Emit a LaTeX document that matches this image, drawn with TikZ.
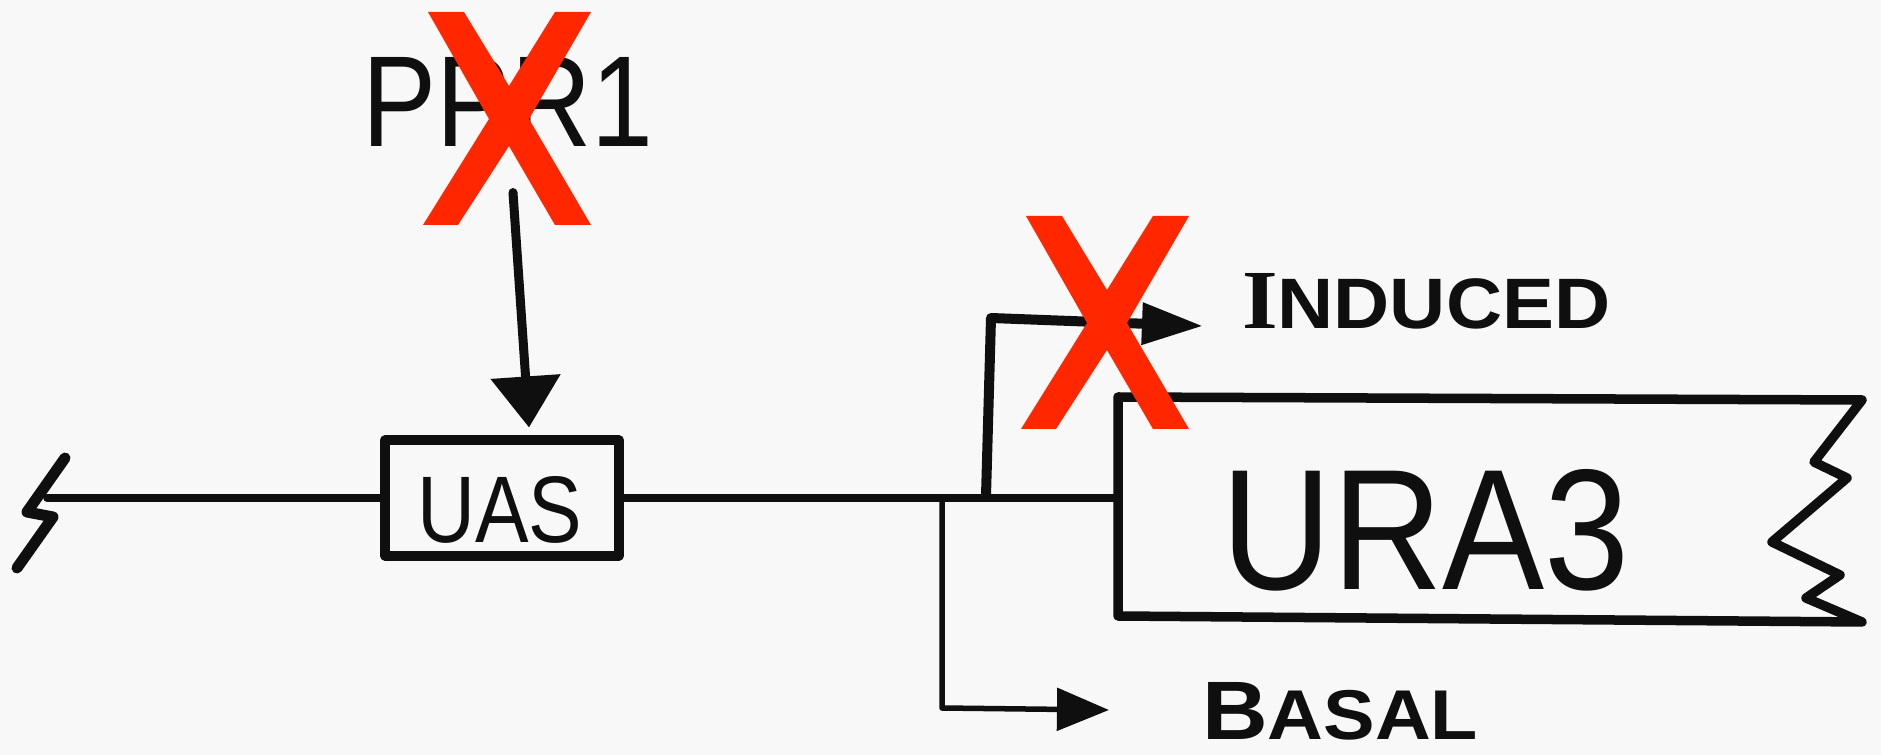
\documentclass[tikz,border=0pt]{standalone}
\usepackage{fontspec}
\setmainfont{Liberation Sans}
\newfontfamily\serifface{Liberation Serif}
\usetikzlibrary{arrows.meta}
\definecolor{xred}{RGB}{255,38,0}
\definecolor{paper}{RGB}{248,248,248}
\definecolor{ink}{RGB}{15,15,15}
\newcommand\drawcross{\fill[xred] (5,0) -- (41,0) -- (86,74) -- (132,0) -- (168,0) -- (106,107) -- (168,213) -- (132,213) -- (86,134) -- (35,213) -- (0,213) -- (66,107) -- cycle;}
\begin{document}
\begin{tikzpicture}[x=0.01cm,y=-0.01cm,line cap=round,line join=round,
  pen/.style={draw=ink,line width=0.075cm},
  genebox/.style={draw=ink,line width=0.1cm,inner sep=0pt},
  lbl/.style={inner sep=0pt,outer sep=0pt,text=ink}]
\fill[paper] (0,0) rectangle (1881,755);
\useasboundingbox (0,0) rectangle (1881,755);

% labels and boxes
\node[lbl] (ppr) at (508,102) {\resizebox{2.9cm}{0.89cm}{PPR1}};
\node[genebox,minimum width=2.34cm,minimum height=1.15cm] (uas) at (502,498) {};
\node[lbl] (uaslabel) at (500,510) {\resizebox{1.65cm}{0.66cm}{UAS}};
\draw[pen,line width=0.095cm] (1118,397) -- (1862,400) -- (1814,462) -- (1847,478) -- (1772,542) -- (1840,575) -- (1806,598) -- (1862,622) -- (1118,616) -- cycle;
\node[lbl] (ura) at (1426,530) {\resizebox{4.08cm}{1.2cm}{URA3}};
\node[lbl,anchor=west] (ind) at (1242,301) {\resizebox{3.68cm}{0.55cm}{\bfseries{\serifface I}\fontsize{8.5}{10}\selectfont NDUCED}};
\node[lbl,anchor=west] (bas) at (1202,711) {\resizebox{2.76cm}{0.57cm}{\bfseries B\fontsize{8.5}{10}\selectfont ASAL}};

% coordinates
\coordinate (brk) at (47,498);
\coordinate (urain) at (1118,498);
\coordinate (indj) at (986,496);
\coordinate (indc) at (991,318);
\coordinate (indt) at (1203,326);
\coordinate (basj) at (942,498);
\coordinate (basc) at (942,708);
\coordinate (bast) at (1109,710);

% break mark
\draw[pen,line width=0.11cm] (65,458) -- (27,512) -- (53,517) -- (17,568);
% main line
\draw[pen] (brk) -- (uas.west);
\draw[pen] (uas.east) -- (urain);
% PPR1 arrow
\draw[pen,line width=0.09cm,-{Triangle[length=0.51cm,width=0.68cm]}]
  ([xshift=0.05cm,yshift=-0.46cm]ppr.south) -- ([xshift=0.27cm,yshift=0.08cm]uas.north);
% induced branch
\draw[pen,line width=0.1cm,-{Triangle[length=0.61cm,width=0.4cm]}] (indj) -- (indc) -- (indt);
% basal branch
\draw[pen,line width=0.055cm,-{Triangle[length=0.52cm,width=0.42cm]}] (basj) -- (basc) -- (bast);

% red crosses
\begin{scope}[shift={(423,12)}]\drawcross\end{scope}
\begin{scope}[shift={(1021,216)}]\drawcross\end{scope}
\end{tikzpicture}
\end{document}
